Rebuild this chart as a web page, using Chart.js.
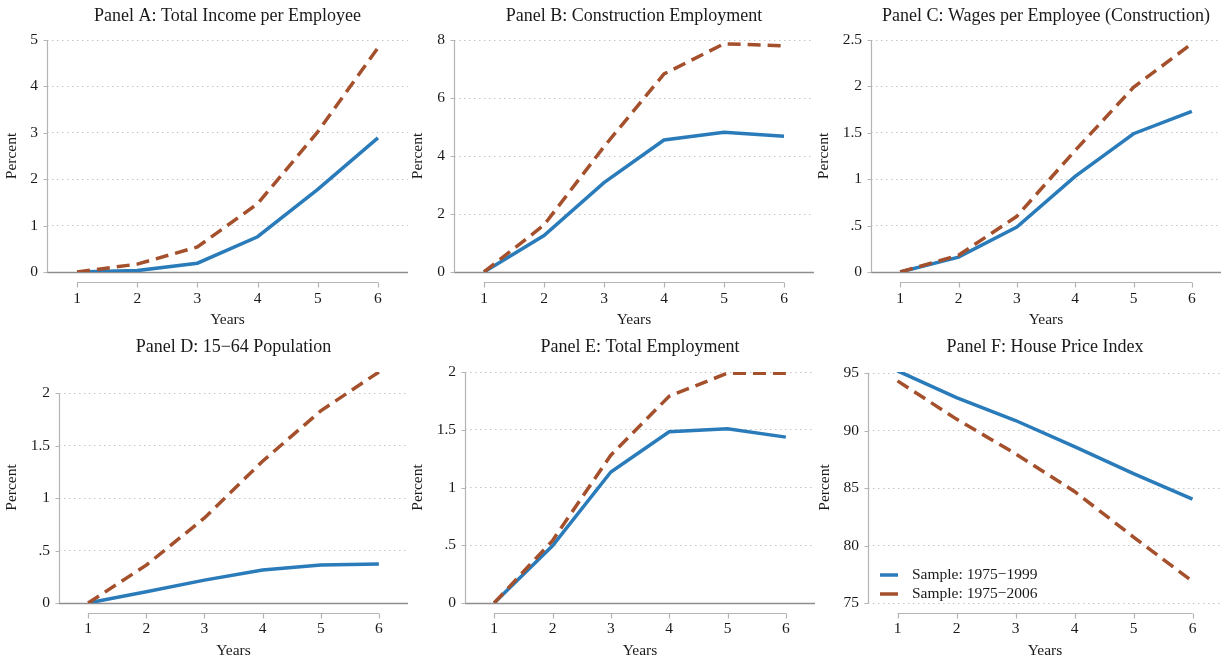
<!DOCTYPE html>
<html>
<head>
<meta charset="utf-8">
<script src="https://cdn.jsdelivr.net/npm/chart.js@4.4.1/dist/chart.umd.min.js"></script>
<style>
  html, body { margin: 0; padding: 0; background: #fff; }
  #wrap { position: relative; width: 1225px; height: 666px; overflow: hidden; }
  #wrap canvas { position: absolute; }
</style>
</head>
<body>
<div id="wrap">
  <canvas id="panelA"></canvas>
  <canvas id="panelB"></canvas>
  <canvas id="panelC"></canvas>
  <canvas id="panelD"></canvas>
  <canvas id="panelE"></canvas>
  <canvas id="panelF"></canvas>
</div>
<script>
// ---- data ----
const years = [1, 2, 3, 4, 5, 6];
const sampleLabels = ['Sample: 1975\u22121999', 'Sample: 1975\u22122006'];

const incomeEarly = [0, 0.03, 0.19, 0.76, 1.78, 2.89];
const incomeLate = [0, 0.17, 0.54, 1.47, 3.02, 4.83];

const constrEmpEarly = [0, 1.26, 3.08, 4.55, 4.82, 4.68];
const constrEmpLate = [0, 1.62, 4.32, 6.83, 7.87, 7.80];

const wagesEarly = [0, 0.16, 0.485, 1.03, 1.49, 1.73];
const wagesLate = [0, 0.18, 0.60, 1.31, 1.99, 2.46];

const popEarly = [0, 0.107, 0.218, 0.315, 0.363, 0.372];
const popLate = [0, 0.36, 0.81, 1.35, 1.83, 2.20];

const totEmpEarly = [0, 0.495, 1.134, 1.482, 1.508, 1.436];
const totEmpLate = [0, 0.54, 1.28, 1.79, 1.99, 1.99];

const hpiEarly = [95.2, 92.88, 90.88, 88.6, 86.25, 84.04];
const hpiLate = [94.33, 91.0, 87.99, 84.71, 80.74, 76.88];

// y tick values and their labels
const ticksA = [0, 1, 2, 3, 4, 5];
const labelsA = ['0', '1', '2', '3', '4', '5'];
const ticksB = [0, 2, 4, 6, 8];
const labelsB = ['0', '2', '4', '6', '8'];
const ticksC = [0, 0.5, 1, 1.5, 2, 2.5];
const labelsC = ['0', '.5', '1', '1.5', '2', '2.5'];
const ticksD = [0, 0.5, 1, 1.5, 2];
const labelsD = ['0', '.5', '1', '1.5', '2'];
const ticksE = [0, 0.5, 1, 1.5, 2];
const labelsE = ['0', '.5', '1', '1.5', '2'];
const ticksF = [75, 80, 85, 90, 95];
const labelsF = ['75', '80', '85', '90', '95'];

// ---- styles ----
const BLUE = '#2a7bba';
const BROWN = '#a5502c';
const AXIS_GREY = '#b4b4b4';
const ZERO_GREY = '#8e8e8e';
const GRID_GREY = '#c4c4c4';
const TEXT = '#1a1a1a';
const SERIF = '"Liberation Serif", "Times New Roman", Times, serif';

Chart.defaults.font.family = SERIF;
Chart.defaults.color = TEXT;

// axis lines drawn the Stata way: y axis only between end ticks, x axis offset below the plot
const stataAxes = {
    id: 'stataAxes',
    beforeDatasetsDraw(chart, args, opts) {
        const { ctx, chartArea } = chart;
        const xs = chart.scales.x, ys = chart.scales.y;
        ctx.save();
        ctx.setLineDash([]);

        if (opts.zeroLine) {
            const y0 = Math.round(ys.getPixelForValue(0)) + 0.5;
            ctx.strokeStyle = ZERO_GREY;
            ctx.lineWidth = 1.3;
            ctx.beginPath();
            ctx.moveTo(chartArea.left, y0);
            ctx.lineTo(chartArea.right, y0);
            ctx.stroke();
        }

        // y axis + ticks
        const yt = ys.ticks;
        const yTop = ys.getPixelForValue(yt[yt.length - 1].value);
        const yBot = ys.getPixelForValue(yt[0].value);
        const ax = Math.round(chartArea.left) + 0.5;
        ctx.strokeStyle = AXIS_GREY;
        ctx.lineWidth = 1.2;
        ctx.beginPath();
        ctx.moveTo(ax, yTop);
        ctx.lineTo(ax, yBot);
        yt.forEach(t => {
            const py = Math.round(ys.getPixelForValue(t.value)) + 0.5;
            ctx.moveTo(ax - 4, py);
            ctx.lineTo(ax, py);
        });
        ctx.stroke();

        // x axis + ticks
        const xt = xs.ticks;
        const ay = Math.round(chartArea.bottom + 10) + 0.5;
        ctx.beginPath();
        ctx.moveTo(xs.getPixelForValue(xt[0].value), ay);
        ctx.lineTo(xs.getPixelForValue(xt[xt.length - 1].value), ay);
        xt.forEach(t => {
            const px = Math.round(xs.getPixelForValue(t.value)) + 0.5;
            ctx.moveTo(px, ay);
            ctx.lineTo(px, ay + 5);
        });
        ctx.stroke();
        ctx.restore();
    }
};

// legend placed inside the plot, bottom-left
const insideLegend = {
    id: 'insideLegend',
    afterDatasetsDraw(chart, args, opts) {
        if (!opts.show) return;
        const { ctx, chartArea } = chart;
        ctx.save();
        ctx.font = '15.5px ' + SERIF;
        ctx.textBaseline = 'middle';
        ctx.textAlign = 'left';
        chart.data.datasets.forEach((ds, i) => {
            const yy = chartArea.bottom - 28 + i * 19;
            ctx.strokeStyle = ds.borderColor;
            ctx.lineWidth = 3.5;
            ctx.setLineDash([]);
            ctx.beginPath();
            ctx.moveTo(chartArea.left + 12, yy);
            ctx.lineTo(chartArea.left + 30, yy);
            ctx.stroke();
            ctx.fillStyle = TEXT;
            ctx.fillText(ds.label, chartArea.left + 44, yy);
        });
        ctx.restore();
    }
};

const topRow = { top: 0, height: 333, xHeight: 61, tickPad: 18, titlePad: { top: 5, bottom: 13.4 }, xTitlePad: 5.5 };
const botRow = { top: 333, height: 333, xHeight: 63, tickPad: 17, titlePad: { top: 3, bottom: 14.4 }, xTitlePad: 7.5 };

const panels = [
    { id: 'panelA', title: 'Panel A: Total Income per Employee', early: incomeEarly, late: incomeLate,
      ticks: ticksA, labels: labelsA, min: 0, max: 5, zero: true, row: topRow,
      left: 0, width: 410, yWidth: 47, padRight: 2, yTitlePad: 4.5 },
    { id: 'panelB', title: 'Panel B: Construction Employment', early: constrEmpEarly, late: constrEmpLate,
      ticks: ticksB, labels: labelsB, min: 0, max: 8, zero: true, row: topRow,
      left: 408, width: 408, yWidth: 46, padRight: 2, yTitlePad: 2.5 },
    { id: 'panelC', title: 'Panel C: Wages per Employee (Construction)', early: wagesEarly, late: wagesLate,
      ticks: ticksC, labels: labelsC, min: 0, max: 2.5, zero: true, row: topRow,
      left: 816, width: 409, yWidth: 55, padRight: 4, yTitlePad: 0.5 },
    { id: 'panelD', title: 'Panel D: 15\u221264 Population', early: popEarly, late: popLate,
      ticks: ticksD, labels: labelsD, min: 0, max: 2.2, zero: true, row: botRow,
      left: 0, width: 410, yWidth: 59, padRight: 2, yTitlePad: 4.5 },
    { id: 'panelE', title: 'Panel E: Total Employment', early: totEmpEarly, late: totEmpLate,
      ticks: ticksE, labels: labelsE, min: 0, max: 2, zero: true, row: botRow,
      left: 408, width: 408, yWidth: 57, padRight: 1, yTitlePad: 2 },
    { id: 'panelF', title: 'Panel F: House Price Index', early: hpiEarly, late: hpiLate,
      ticks: ticksF, labels: labelsF, min: 75, max: 95.1, zero: false, row: botRow,
      left: 816, width: 409, yWidth: 52, padRight: 3, yTitlePad: 1, legend: true }
];

panels.forEach(p => {
    const canvas = document.getElementById(p.id);
    canvas.width = p.width;
    canvas.height = p.row.height;
    canvas.style.left = p.left + 'px';
    canvas.style.top = p.row.top + 'px';
    canvas.style.width = p.width + 'px';
    canvas.style.height = p.row.height + 'px';

    new Chart(canvas, {
        type: 'line',
        data: {
            datasets: [
                {
                    label: sampleLabels[0],
                    data: years.map((x, i) => ({ x: x, y: p.early[i] })),
                    borderColor: BLUE,
                    borderWidth: 3.5,
                    pointRadius: 0,
                    tension: 0,
                    order: 1
                },
                {
                    label: sampleLabels[1],
                    data: years.map((x, i) => ({ x: x, y: p.late[i] })),
                    borderColor: BROWN,
                    borderWidth: 3.5,
                    borderDash: [13, 7],
                    pointRadius: 0,
                    tension: 0,
                    order: 0
                }
            ]
        },
        options: {
            responsive: false,
            animation: false,
            layout: { padding: { left: 0, right: p.padRight, top: 0, bottom: 0 } },
            scales: {
                x: {
                    type: 'linear',
                    min: 0.5,
                    max: 6.5,
                    afterBuildTicks: s => { s.ticks = years.map(v => ({ value: v })); },
                    afterFit: s => { s.height = p.row.xHeight; },
                    grid: { display: false, drawTicks: false },
                    border: { display: false },
                    ticks: { font: { size: 15.5 }, color: TEXT, padding: p.row.tickPad, maxRotation: 0,
                             callback: v => String(v) },
                    title: { display: true, text: 'Years', font: { size: 15.5, lineHeight: 1 },
                             color: TEXT, padding: { top: 0, bottom: p.row.xTitlePad } }
                },
                y: {
                    type: 'linear',
                    min: p.min,
                    max: p.max,
                    afterBuildTicks: s => { s.ticks = p.ticks.map(v => ({ value: v })); },
                    afterFit: s => { s.width = p.yWidth; },
                    grid: {
                        drawTicks: false,
                        lineWidth: 1,
                        color: c => (p.zero && c.tick && c.tick.value === 0) ? 'rgba(0,0,0,0)' : GRID_GREY
                    },
                    border: { display: false, dash: [1.5, 3.5] },
                    ticks: { font: { size: 15.5 }, color: TEXT, padding: 9,
                             callback: (v, i) => p.labels[i] },
                    title: { display: true, text: 'Percent', font: { size: 15.5, lineHeight: 1 },
                             color: TEXT, padding: { top: p.yTitlePad, bottom: 0 } }
                }
            },
            plugins: {
                legend: { display: false },
                tooltip: { enabled: false },
                title: {
                    display: true,
                    text: p.title,
                    fullSize: false,
                    color: TEXT,
                    font: { size: 18, weight: 'normal', lineHeight: 1.2 },
                    padding: p.row.titlePad
                },
                stataAxes: { zeroLine: p.zero },
                insideLegend: { show: !!p.legend }
            }
        },
        plugins: [stataAxes, insideLegend]
    });
});
</script>
</body>
</html>
